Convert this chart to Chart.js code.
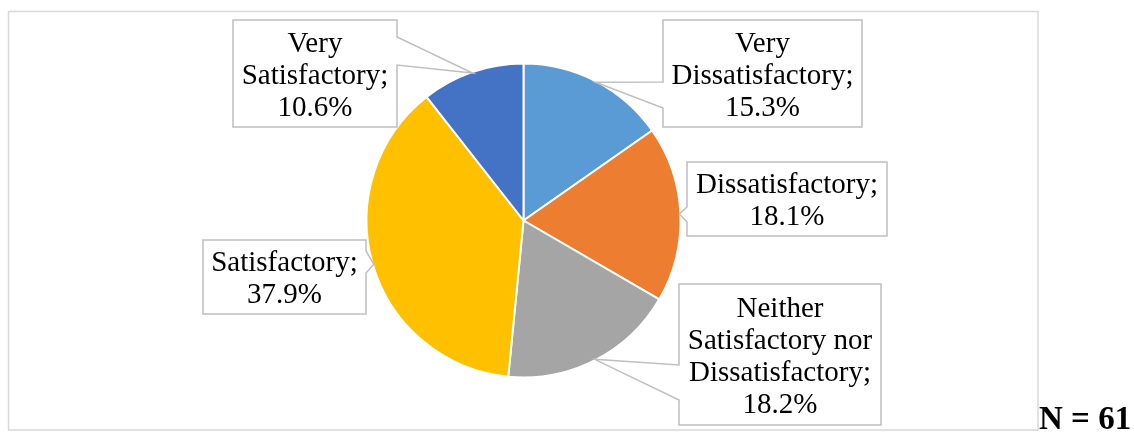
<!DOCTYPE html>
<html>
<head>
<meta charset="utf-8">
<script src="https://cdn.jsdelivr.net/npm/chart.js@4/dist/chart.umd.min.js"></script>
<style>
  html, body { margin: 0; padding: 0; background: #fff; }
  #wrap { position: relative; width: 1134px; height: 432px; }
</style>
</head>
<body>
<div id="wrap"><canvas id="c" width="1134" height="432"></canvas></div>
<script>
// Survey answers, clockwise from 12 o'clock
const categories = [
  'Very Dissatisfactory',
  'Dissatisfactory',
  'Neither Satisfactory nor Dissatisfactory',
  'Satisfactory',
  'Very Satisfactory'
];
const shares = [15.3, 18.1, 18.2, 37.9, 10.6];
const sliceColors = ['#5B9BD5', '#ED7D31', '#A5A5A5', '#FFC000', '#4472C4'];
const sampleNote = 'N = 61';

// Callout boxes: [left, top, right, bottom], plus the edge stretch the pointer leaves from
const calloutLayout = [
  { box: [663, 20, 862, 127], side: 'left',  from: 82,  to: 108 },
  { box: [687, 162, 887, 236], side: 'left', from: 207, to: 222 },
  { box: [679, 284, 881, 425], side: 'left', from: 365, to: 400 },
  { box: [203, 240, 366, 314], side: 'right', from: 251, to: 273 },
  { box: [233, 20, 397, 127], side: 'right', from: 37,  to: 65 }
];

const LABEL_FONT = '29px "Liberation Serif", "Times New Roman", serif';
const LINE_H = 32;

function wrapWords(ctx, text, maxW) {
  const words = text.split(' ');
  const lines = [];
  let cur = '';
  for (const w of words) {
    const test = cur ? cur + ' ' + w : w;
    if (cur && ctx.measureText(test).width > maxW) {
      lines.push(cur);
      cur = w;
    } else {
      cur = test;
    }
  }
  if (cur) lines.push(cur);
  return lines;
}

const frameAndNote = {
  id: 'frameAndNote',
  beforeDraw(chart) {
    const ctx = chart.ctx;
    ctx.save();
    ctx.fillStyle = '#ffffff';
    ctx.fillRect(0, 0, chart.width, chart.height);
    ctx.strokeStyle = '#d9d9d9';
    ctx.lineWidth = 1.5;
    ctx.strokeRect(8.5, 11.5, 1029.5, 418.5);
    ctx.restore();
  },
  afterDraw(chart) {
    const ctx = chart.ctx;
    ctx.save();
    ctx.font = 'bold 33px "Liberation Serif", "Times New Roman", serif';
    ctx.fillStyle = '#000';
    ctx.textAlign = 'left';
    ctx.textBaseline = 'alphabetic';
    ctx.fillText(sampleNote, 1039, 429);
    ctx.restore();
  }
};

const calloutLabels = {
  id: 'calloutLabels',
  afterDatasetsDraw(chart) {
    const ctx = chart.ctx;
    const meta = chart.getDatasetMeta(0);
    const values = chart.data.datasets[0].data;
    meta.data.forEach((arc, i) => {
      const lay = calloutLayout[i];
      if (!lay) return;
      const p = arc.getProps(['x', 'y', 'startAngle', 'endAngle', 'outerRadius'], true);
      const mid = (p.startAngle + p.endAngle) / 2;
      const r = p.outerRadius - 1;
      const tx = p.x + Math.cos(mid) * r;
      const ty = p.y + Math.sin(mid) * r;
      const [x1, y1, x2, y2] = lay.box;

      ctx.save();
      ctx.beginPath();
      if (lay.side === 'left') {
        ctx.moveTo(x1, y1);
        ctx.lineTo(x2, y1);
        ctx.lineTo(x2, y2);
        ctx.lineTo(x1, y2);
        ctx.lineTo(x1, lay.to);
        ctx.lineTo(tx, ty);
        ctx.lineTo(x1, lay.from);
      } else {
        ctx.moveTo(x1, y1);
        ctx.lineTo(x2, y1);
        ctx.lineTo(x2, lay.from);
        ctx.lineTo(tx, ty);
        ctx.lineTo(x2, lay.to);
        ctx.lineTo(x2, y2);
        ctx.lineTo(x1, y2);
      }
      ctx.closePath();
      ctx.fillStyle = '#ffffff';
      ctx.fill();
      ctx.strokeStyle = '#bfbfbf';
      ctx.lineWidth = 1.5;
      ctx.lineJoin = 'miter';
      ctx.stroke();

      ctx.font = LABEL_FONT;
      ctx.fillStyle = '#000';
      ctx.textAlign = 'center';
      ctx.textBaseline = 'alphabetic';
      const lines = wrapWords(ctx, chart.data.labels[i] + ';', (x2 - x1) - 10);
      lines.push(values[i].toFixed(1) + '%');
      const cx = (x1 + x2) / 2;
      const cy = (y1 + y2) / 2;
      const first = cy - (lines.length - 1) * LINE_H / 2 + 10;
      lines.forEach((ln, k) => ctx.fillText(ln, cx, first + k * LINE_H));
      ctx.restore();
    });
  }
};

new Chart(document.getElementById('c'), {
  type: 'pie',
  data: {
    labels: categories,
    datasets: [{
      data: shares,
      backgroundColor: sliceColors,
      borderColor: '#ffffff',
      borderWidth: 2,
      radius: 157
    }]
  },
  options: {
    responsive: false,
    devicePixelRatio: 1,
    animation: false,
    layout: { padding: { left: 300, right: 387, top: 9, bottom: 0 } },
    plugins: {
      legend: { display: false },
      tooltip: { enabled: false }
    }
  },
  plugins: [frameAndNote, calloutLabels]
});
</script>
</body>
</html>
